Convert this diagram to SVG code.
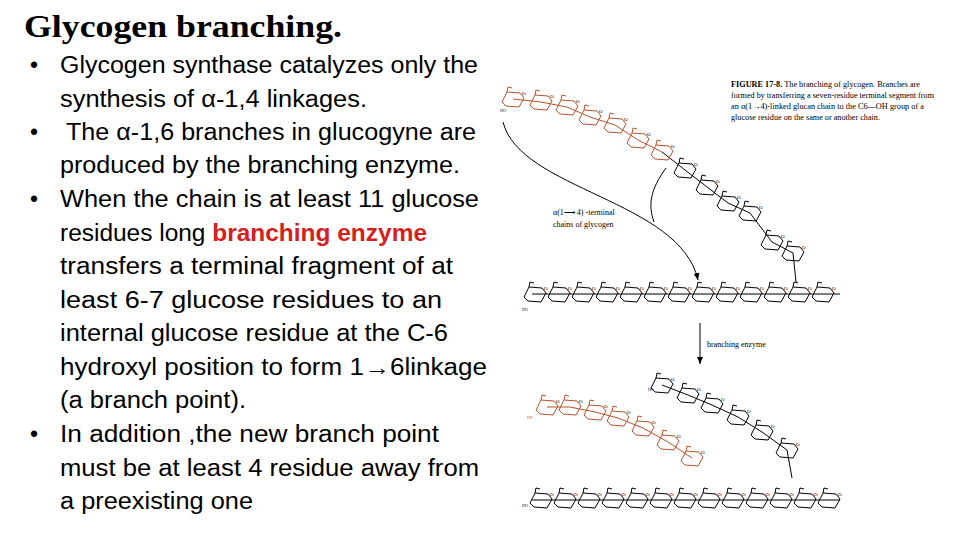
<svg xmlns="http://www.w3.org/2000/svg" width="960" height="540" viewBox="0 0 960 540">
<style>
.t{font-family:"Liberation Sans",Arial,sans-serif;font-size:23px;fill:#000}
.f{font-family:"Liberation Serif","Times New Roman",serif;fill:#000}
.r{fill:none;stroke:#000;stroke-width:1}
.rr{fill:none;stroke:#b5532a;stroke-width:1}
</style>
<defs>
<g id="ring"><path d="M-11,3 L-6,-7 L7,-6 L11,-1 L6,8 L-7,7Z"/><path d="M-6,-7 L-5,-12 L-1,-11"/><text x="9" y="-4" style="font-size:5px;stroke:none;fill:#000;font-family:serif">O</text></g>
<marker id="ah" markerWidth="8" markerHeight="8" refX="7" refY="4" orient="auto" markerUnits="userSpaceOnUse"><path d="M0,1 L7,4 L0,7Z" fill="#000"/></marker>
</defs>
<rect width="960" height="540" fill="#fff"/>
<text x="24" y="37" textLength="318" lengthAdjust="spacingAndGlyphs" style="font-family:'Liberation Serif',serif;font-size:32px;font-weight:bold">Glycogen branching.</text>
<g class="t">
<text x="30" y="73">•</text><text x="60" y="73" textLength="418" lengthAdjust="spacingAndGlyphs">Glycogen synthase catalyzes only the</text>
<text x="60" y="107" textLength="307" lengthAdjust="spacingAndGlyphs">synthesis of α-1,4 linkages.</text>
<text x="30" y="140">•</text><text x="66" y="140" textLength="410" lengthAdjust="spacingAndGlyphs">The α-1,6 branches in glucogyne are</text>
<text x="60" y="173" textLength="400" lengthAdjust="spacingAndGlyphs">produced by the branching enzyme.</text>
<text x="30" y="207">•</text><text x="60" y="207" textLength="419" lengthAdjust="spacingAndGlyphs">When the chain is at least 11 glucose</text>
<text x="60" y="241" textLength="367" lengthAdjust="spacingAndGlyphs">residues long <tspan fill="#d42020" font-weight="bold">branching enzyme</tspan></text>
<text x="60" y="274" textLength="393" lengthAdjust="spacingAndGlyphs">transfers a terminal fragment of at</text>
<text x="60" y="308" textLength="382" lengthAdjust="spacingAndGlyphs">least 6-7 glucose residues to an</text>
<text x="60" y="341" textLength="388" lengthAdjust="spacingAndGlyphs">internal glucose residue at the C-6</text>
<text x="60" y="375" textLength="427" lengthAdjust="spacingAndGlyphs">hydroxyl position to form 1→6linkage</text>
<text x="60" y="408" textLength="186" lengthAdjust="spacingAndGlyphs">(a branch point).</text>
<text x="30" y="442">•</text><text x="60" y="442" textLength="379" lengthAdjust="spacingAndGlyphs">In addition ,the new branch point</text>
<text x="60" y="476" textLength="419" lengthAdjust="spacingAndGlyphs">must be at least 4 residue away from</text>
<text x="60" y="509" textLength="193" lengthAdjust="spacingAndGlyphs">a preexisting one</text>
</g>
<g id="caption" class="f" style="font-size:8.5px;font-weight:bold">
<text x="731" y="87" textLength="189" lengthAdjust="spacingAndGlyphs">FIGURE 17-8.  <tspan font-weight="normal">The branching of glycogen. Branches are</tspan></text>
<text x="731" y="98" textLength="203" lengthAdjust="spacingAndGlyphs" font-weight="normal">formed by transferring a seven-residue terminal segment from</text>
<text x="731" y="109" textLength="193" lengthAdjust="spacingAndGlyphs" font-weight="normal">an α(1→4)-linked glucan chain to the C6—OH group of a</text>
<text x="731" y="120" textLength="149" lengthAdjust="spacingAndGlyphs" font-weight="normal">glucose residue on the same or another chain.</text>
</g>
<g id="top-chain">
<polyline class="rr" points="513,99 541,102 567,107 590,117 615,125 638,140 662,152"/>
<polyline class="r" points="662,152 685,170 707,187 728,203 750,213 772,242 793,253 796,282"/>
<g class="rr">
<use href="#ring" x="513" y="99"/><use href="#ring" x="541" y="102"/><use href="#ring" x="567" y="107"/><use href="#ring" x="590" y="117"/><use href="#ring" x="615" y="125"/><use href="#ring" x="638" y="140"/><use href="#ring" x="662" y="152"/>
</g>
<g class="r">
<use href="#ring" x="685" y="170"/><use href="#ring" x="707" y="187"/><use href="#ring" x="728" y="203"/><use href="#ring" x="750" y="213"/><use href="#ring" x="772" y="242"/><use href="#ring" x="793" y="253"/>
</g>
<text x="500" y="112" class="f" style="font-size:4px">HO</text>
</g>
<g id="mid-chain" class="r">
<polyline points="532,294 840,294"/>
<use href="#ring" x="535" y="294"/><use href="#ring" x="559" y="294"/><use href="#ring" x="583" y="294"/><use href="#ring" x="607" y="294"/><use href="#ring" x="631" y="294"/><use href="#ring" x="655" y="294"/><use href="#ring" x="679" y="294"/><use href="#ring" x="703" y="294"/><use href="#ring" x="727" y="294"/><use href="#ring" x="751" y="294"/><use href="#ring" x="775" y="294"/><use href="#ring" x="799" y="294"/><use href="#ring" x="823" y="294"/>
<text x="522" y="311" class="f" style="font-size:4px;stroke:none">HO</text>
</g>
<g id="connectors" fill="none" stroke="#000" stroke-width="1">
<path d="M503,122 C520,190 680,200 698,280" marker-end="url(#ah)"/>
<path d="M666,168 C650,190 648,205 654,222"/>
<line x1="700" y1="323" x2="700" y2="364" marker-end="url(#ah)"/>
</g>
<text x="553" y="215" class="f" style="font-size:8px">α(1⟶ 4) -terminal</text>
<text x="553" y="227" class="f" style="font-size:8px">chains of glycogen</text>
<text x="707" y="347" class="f" style="font-size:8px">branching enzyme</text>
<g id="bottom-branches">
<polyline class="rr" points="547,407 570,407 595,412 618,418 643,428 668,442 692,458"/>
<g class="rr"><use href="#ring" x="547" y="407"/><use href="#ring" x="570" y="407"/><use href="#ring" x="595" y="412"/><use href="#ring" x="618" y="418"/><use href="#ring" x="643" y="428"/><use href="#ring" x="668" y="442"/><use href="#ring" x="692" y="458"/></g>
<polyline class="r" points="662,385 688,395 712,405 738,417 762,432 787,450 792,478"/>
<g class="r"><use href="#ring" x="662" y="385"/><use href="#ring" x="688" y="395"/><use href="#ring" x="712" y="405"/><use href="#ring" x="738" y="417"/><use href="#ring" x="762" y="432"/><use href="#ring" x="787" y="450"/></g>
<text x="648" y="391" class="f" style="font-size:4px">HO</text>
<text x="527" y="419" class="f" style="font-size:4px;fill:#b5532a">HO</text>
</g>
<g id="bottom-chain" class="r">
<polyline points="532,500 840,500"/>
<use href="#ring" x="541" y="500"/><use href="#ring" x="565" y="500"/><use href="#ring" x="589" y="500"/><use href="#ring" x="613" y="500"/><use href="#ring" x="637" y="500"/><use href="#ring" x="661" y="500"/><use href="#ring" x="685" y="500"/><use href="#ring" x="709" y="500"/><use href="#ring" x="733" y="500"/><use href="#ring" x="757" y="500"/><use href="#ring" x="781" y="500"/><use href="#ring" x="805" y="500"/><use href="#ring" x="829" y="500"/>
<text x="522" y="507" class="f" style="font-size:4px;stroke:none">HO</text>
</g>
</svg>
